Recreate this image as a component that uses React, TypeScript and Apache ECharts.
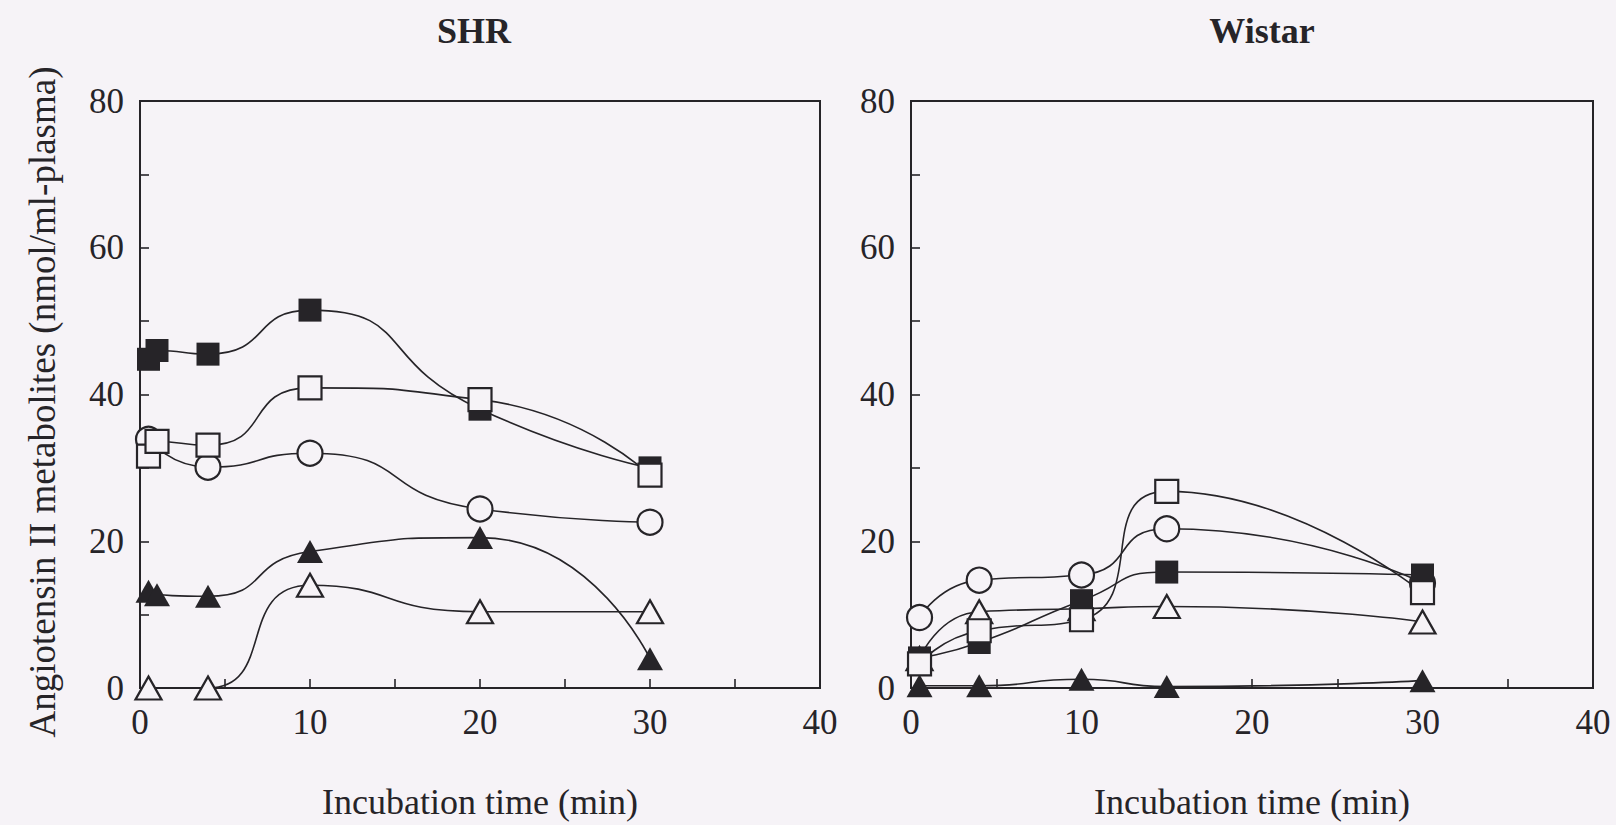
import React, { useEffect, useRef } from "react";
import * as echarts from "echarts";

// Axis ticks and labels (minutes / nmol per ml plasma)
const TIME_TICKS = [0, 5, 10, 15, 20, 25, 30, 35, 40];
const TIME_LABELS = [0, 10, 20, 30, 40];
const CONC_TICKS = [0, 10, 20, 30, 40, 50, 60, 70, 80];
const CONC_LABELS = [0, 20, 40, 60, 80];

// SHR panel
const shrTimesA = [0.5, 1, 4, 10, 20, 30];
const shrFilledSquare = [44.8, 46, 45.5, 51.5, 38, 30];
const shrOpenSquare = [31.6, 33.6, 33.1, 40.9, 39.3, 29.0];
const shrFilledTriangle = [13.2, 12.7, 12.5, 18.6, 20.5, 4];
const shrTimesB = [0.5, 4, 10, 20, 30];
const shrOpenCircle = [33.9, 30.1, 32.0, 24.4, 22.6];
const shrOpenTriangle = [0, 0, 14, 10.4, 10.4];

// Wistar panel
const wistarTimes = [0.5, 4, 10, 15, 30];
const wistarOpenCircle = [9.6, 14.7, 15.4, 21.7, 14.3];
const wistarOpenSquare = [3.3, 7.8, 9.3, 26.8, 13.0];
const wistarFilledSquare = [4.1, 6.2, 11.9, 15.8, 15.4];
const wistarOpenTriangle = [4, 10.4, 10.8, 11.1, 9];
const wistarFilledTriangle = [0.3, 0.3, 1.2, 0.2, 1.0];

const Y_TITLE = "Angiotensin II metabolites (nmol/ml-plasma)";
const X_TITLE = "Incubation time (min)";

const INK = "#262428";
const PAPER = "#f6f3f7";
const FONT = "'Liberation Serif', 'Times New Roman', serif";

type Kind = "filledSquare" | "openSquare" | "openCircle" | "filledTriangle" | "openTriangle";

const MARKERS: Record<Kind, { symbol: string; size: number | number[]; filled: boolean }> = {
  filledSquare: { symbol: "rect", size: 23, filled: true },
  openSquare: { symbol: "rect", size: 23, filled: false },
  openCircle: { symbol: "circle", size: 25, filled: false },
  filledTriangle: { symbol: "triangle", size: [26, 23], filled: true },
  openTriangle: { symbol: "triangle", size: [26, 23], filled: false },
};

function makeSeries(name: string, times: number[], values: number[], kind: Kind, panel: number) {
  const m = MARKERS[kind];
  return {
    type: "line",
    name,
    xAxisIndex: panel,
    yAxisIndex: panel,
    data: times.map((t, i) => [t, values[i]]),
    smooth: 0.6,
    symbol: m.symbol,
    symbolSize: m.size,
    showAllSymbol: true,
    lineStyle: { color: INK, width: 1.6 },
    itemStyle: {
      color: m.filled ? INK : PAPER,
      borderColor: INK,
      borderWidth: m.filled ? 0 : 2.2,
      opacity: 1,
    },
    emphasis: { disabled: true },
  };
}

function xAxisFor(panel: number) {
  return {
    type: "value",
    gridIndex: panel,
    min: 0,
    max: 40,
    axisLine: { show: false },
    axisTick: {
      show: true,
      inside: true,
      length: 9,
      customValues: TIME_TICKS,
      lineStyle: { color: INK, width: 1.6 },
    },
    axisLabel: {
      customValues: TIME_LABELS,
      margin: 17,
      fontFamily: FONT,
      fontSize: 35,
      color: INK,
    },
    splitLine: { show: false },
    name: X_TITLE,
    nameLocation: "middle",
    nameGap: 96,
    nameTextStyle: { fontFamily: FONT, fontSize: 36, color: INK },
  };
}

function yAxisFor(panel: number) {
  return {
    type: "value",
    gridIndex: panel,
    min: 0,
    max: 80,
    axisLine: { show: false },
    axisTick: {
      show: true,
      inside: true,
      length: 9,
      customValues: CONC_TICKS,
      lineStyle: { color: INK, width: 1.6 },
    },
    axisLabel: {
      customValues: CONC_LABELS,
      margin: 16,
      fontFamily: FONT,
      fontSize: 35,
      color: INK,
    },
    splitLine: { show: false },
  };
}

export default function App() {
  const ref = useRef<HTMLDivElement>(null);

  useEffect(() => {
    if (!ref.current) return;
    const chart = echarts.init(ref.current, undefined, { renderer: "svg" });
    const gridBase = {
      show: true,
      borderColor: INK,
      borderWidth: 2,
      backgroundColor: "transparent",
      top: 101,
      bottom: 132,
      containLabel: false,
    };
    chart.setOption({
      animation: false,
      backgroundColor: PAPER,
      title: [
        {
          text: "SHR",
          left: 469,
          top: 8,
          textAlign: "center",
          textStyle: { fontFamily: FONT, fontSize: 36, fontWeight: "bold", color: INK },
        },
        {
          text: "Wistar",
          left: 1257,
          top: 8,
          textAlign: "center",
          textStyle: { fontFamily: FONT, fontSize: 36, fontWeight: "bold", color: INK },
        },
      ],
      graphic: [
        {
          type: "text",
          x: 42,
          y: 402,
          rotation: Math.PI / 2,
          style: {
            text: Y_TITLE,
            fontFamily: FONT,
            fontSize: 37,
            fill: INK,
            align: "center",
            verticalAlign: "middle",
          },
        },
      ],
      grid: [
        { ...gridBase, left: 140, right: 796 },
        { ...gridBase, left: 911, right: 23 },
      ],
      xAxis: [xAxisFor(0), xAxisFor(1)],
      yAxis: [yAxisFor(0), yAxisFor(1)],
      series: [
        makeSeries("SHR open triangle", shrTimesB, shrOpenTriangle, "openTriangle", 0),
        makeSeries("SHR filled triangle", shrTimesA, shrFilledTriangle, "filledTriangle", 0),
        makeSeries("SHR open circle", shrTimesB, shrOpenCircle, "openCircle", 0),
        makeSeries("SHR filled square", shrTimesA, shrFilledSquare, "filledSquare", 0),
        makeSeries("SHR open square", shrTimesA, shrOpenSquare, "openSquare", 0),
        makeSeries("Wistar filled triangle", wistarTimes, wistarFilledTriangle, "filledTriangle", 1),
        makeSeries("Wistar open triangle", wistarTimes, wistarOpenTriangle, "openTriangle", 1),
        makeSeries("Wistar open circle", wistarTimes, wistarOpenCircle, "openCircle", 1),
        makeSeries("Wistar filled square", wistarTimes, wistarFilledSquare, "filledSquare", 1),
        makeSeries("Wistar open square", wistarTimes, wistarOpenSquare, "openSquare", 1),
      ],
    });
    return () => chart.dispose();
  }, []);

  return (
    <div
      ref={ref}
      style={{ position: "fixed", left: 0, top: 0, width: 1616, height: 825 }}
    />
  );
}
